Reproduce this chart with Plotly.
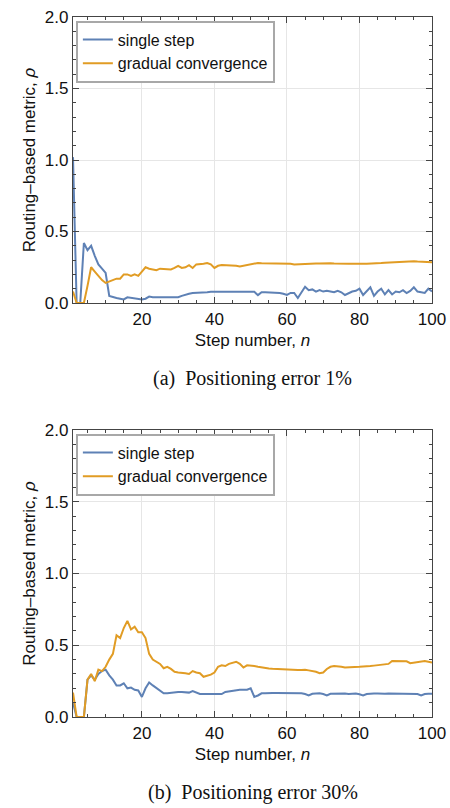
import plotly.graph_objects as go

steps = list(range(1, 101))

# (a) Positioning error 1%
single_a = [1.02, 0.0, 0.0, 0.42, 0.37, 0.40, 0.33, 0.27, 0.24, 0.21,
            0.05, 0.04, 0.035, 0.03, 0.025, 0.04, 0.035, 0.03, 0.03, 0.025,
            0.03, 0.045, 0.04, 0.04, 0.04, 0.04, 0.04, 0.04, 0.045, 0.04,
            0.05, 0.06, 0.065, 0.07, 0.07, 0.072, 0.075, 0.075, 0.078, 0.078,
            0.075, 0.08, 0.08, 0.078, 0.08, 0.075, 0.078, 0.08, 0.078, 0.08,
            0.078, 0.055, 0.075, 0.075, 0.075, 0.072, 0.075, 0.07, 0.065, 0.056,
            0.07, 0.07, 0.035, 0.07, 0.114, 0.09, 0.095, 0.08, 0.09, 0.08,
            0.085, 0.08, 0.075, 0.085, 0.075, 0.056, 0.07, 0.08, 0.085, 0.1,
            0.056, 0.08, 0.11, 0.05, 0.08, 0.1, 0.06, 0.09, 0.06, 0.08,
            0.075, 0.09, 0.07, 0.085, 0.11, 0.08, 0.075, 0.07, 0.1, 0.08]
gradual_a = [0.08, 0.0, 0.0, 0.0, 0.12, 0.25, 0.22, 0.19, 0.16, 0.14,
             0.15, 0.165, 0.17, 0.17, 0.2, 0.2, 0.19, 0.2, 0.19, 0.22,
             0.25, 0.24, 0.235, 0.23, 0.24, 0.24, 0.24, 0.235, 0.245, 0.26,
             0.245, 0.25, 0.265, 0.245, 0.27, 0.27, 0.275, 0.28, 0.27, 0.245,
             0.26, 0.265, 0.265, 0.26, 0.265, 0.26, 0.255, 0.26, 0.27, 0.275,
             0.28, 0.28, 0.278, 0.278, 0.277, 0.278, 0.276, 0.275, 0.277, 0.278,
             0.275, 0.27, 0.272, 0.274, 0.275, 0.276, 0.278, 0.277, 0.276, 0.278,
             0.279, 0.278, 0.276, 0.277, 0.278, 0.277, 0.275, 0.275, 0.273, 0.273,
             0.274, 0.275, 0.275, 0.276, 0.278, 0.28, 0.282, 0.283, 0.285, 0.288,
             0.29, 0.292, 0.293, 0.293, 0.292, 0.29, 0.288, 0.287, 0.286, 0.285]

# (b) Positioning error 30%
single_b = [0.1, 0.0, 0.0, 0.0, 0.26, 0.29, 0.26, 0.30, 0.32, 0.33,
            0.29, 0.26, 0.22, 0.22, 0.235, 0.20, 0.205, 0.19, 0.185, 0.14,
            0.20, 0.24, 0.22, 0.20, 0.18, 0.165, 0.165, 0.17, 0.17, 0.175,
            0.175, 0.17, 0.17, 0.18, 0.17, 0.16, 0.16, 0.16, 0.162, 0.165,
            0.165, 0.16, 0.175, 0.18, 0.18, 0.19, 0.19, 0.19, 0.19, 0.20,
            0.14, 0.15, 0.165, 0.165, 0.168, 0.168, 0.168, 0.168, 0.168, 0.167,
            0.167, 0.165, 0.165, 0.165, 0.16, 0.15, 0.162, 0.165, 0.165, 0.16,
            0.15, 0.162, 0.163, 0.163, 0.165, 0.163, 0.16, 0.163, 0.163, 0.158,
            0.15, 0.16, 0.163, 0.163, 0.163, 0.16, 0.162, 0.163, 0.163, 0.162,
            0.162, 0.163, 0.163, 0.162, 0.162, 0.16, 0.15, 0.16, 0.162, 0.162]
gradual_b = [0.17, 0.0, 0.0, 0.0, 0.26, 0.30, 0.25, 0.33, 0.32, 0.35,
             0.40, 0.44, 0.57, 0.55, 0.62, 0.67, 0.61, 0.63, 0.59, 0.59,
             0.55, 0.44, 0.40, 0.385, 0.37, 0.34, 0.35, 0.335, 0.315, 0.31,
             0.31, 0.305, 0.30, 0.32, 0.31, 0.305, 0.28, 0.285, 0.295, 0.31,
             0.35, 0.36, 0.355, 0.37, 0.375, 0.385, 0.37, 0.345, 0.36, 0.36,
             0.355, 0.35, 0.345, 0.34, 0.338, 0.336, 0.334, 0.332, 0.33, 0.33,
             0.33, 0.328, 0.327, 0.328, 0.33, 0.325, 0.322, 0.315, 0.305, 0.31,
             0.335, 0.35, 0.355, 0.355, 0.35, 0.345, 0.345, 0.348, 0.35, 0.35,
             0.352, 0.352, 0.355, 0.358, 0.36, 0.362, 0.365, 0.37, 0.39, 0.39,
             0.39, 0.39, 0.388, 0.375, 0.378, 0.38, 0.385, 0.39, 0.385, 0.38]

series_names = ["single step", "gradual convergence"]
captions = ["(a)  Positioning error 1%", "(b)  Positioning error 30%"]
x_tick_vals = [20, 40, 60, 80, 100]
y_tick_vals = [0.0, 0.5, 1.0, 1.5, 2.0]
y_tick_text = ["0.0", "0.5", "1.0", "1.5", "2.0"]

BLUE = "#5E81B5"
ORANGE = "#E19C24"
AXIS = "#444444"
GRID = "#E6E6E6"
SANS = "Liberation Sans, Arial, sans-serif"
SERIF = "Liberation Serif, serif"

fig = go.Figure()
panels = [(single_a, gradual_a, "x", "y", "legend"),
          (single_b, gradual_b, "x2", "y2", "legend2")]
for s, g, xa, ya, lg in panels:
    fig.add_trace(go.Scatter(x=steps, y=s, mode="lines", name=series_names[0],
                             line=dict(color=BLUE, width=2), xaxis=xa, yaxis=ya,
                             legend=lg))
    fig.add_trace(go.Scatter(x=steps, y=g, mode="lines", name=series_names[1],
                             line=dict(color=ORANGE, width=2), xaxis=xa, yaxis=ya,
                             legend=lg))

def xax(domain_anchor):
    return dict(range=[1, 100], tickvals=x_tick_vals, ticks="inside", ticklen=6,
                tickcolor=AXIS, showline=True, linecolor=AXIS, linewidth=1.2,
                mirror="ticks", showgrid=True, gridcolor=GRID, gridwidth=1,
                zeroline=False, anchor=domain_anchor, automargin=False,
                domain=[0, 1],
                tickfont=dict(family=SANS, size=17, color="#111"),
                title=dict(text="Step number, <i>n</i>",
                           font=dict(family=SANS, size=17, color="#111"), standoff=6),
                minor=dict(dtick=5, tick0=0, ticks="inside", ticklen=3,
                           tickcolor=AXIS, showgrid=False))

def yax(domain, anchor):
    return dict(range=[0, 2.0], domain=domain, tickvals=y_tick_vals,
                ticktext=y_tick_text, ticks="inside", ticklen=6, tickcolor=AXIS,
                showline=True, linecolor=AXIS, linewidth=1.2, mirror="ticks",
                showgrid=True, gridcolor=GRID, gridwidth=1, zeroline=False,
                anchor=anchor, automargin=False,
                tickfont=dict(family=SANS, size=17, color="#111"),
                title=dict(text="Routing–based metric, <i>ρ</i>",
                           font=dict(family=SANS, size=17, color="#111"), standoff=4),
                minor=dict(dtick=0.1, tick0=0, ticks="inside", ticklen=3,
                           tickcolor=AXIS, showgrid=False))

top_dom = [414 / 700, 1.0]
bot_dom = [0.0, 287 / 700]

legend_style = dict(bgcolor="white", bordercolor="#A8A8A8", borderwidth=2,
                    font=dict(family=SANS, size=16, color="#111"),
                    xanchor="left", yanchor="top", itemwidth=30,
                    tracegroupgap=0)

fig.update_layout(
    width=450, height=808,
    margin=dict(l=73, r=18, t=17, b=91, autoexpand=False),
    paper_bgcolor="white", plot_bgcolor="white",
    showlegend=True,
    xaxis=xax("y"),
    yaxis=yax(top_dom, "x"),
    xaxis2=xax("y2"),
    yaxis2=yax(bot_dom, "x2"),
    legend=dict(x=0.008, y=0.995, **legend_style),
    legend2=dict(x=0.008, y=bot_dom[1] - 0.005, **legend_style),
    annotations=[
        dict(text=captions[0], xref="paper", yref="paper", x=0.5,
             y=(717 - 378) / 700, xanchor="center", yanchor="middle",
             showarrow=False, font=dict(family=SERIF, size=20, color="#111")),
        dict(text=captions[1], xref="paper", yref="paper", x=0.5,
             y=(717 - 792) / 700, xanchor="center", yanchor="middle",
             showarrow=False, font=dict(family=SERIF, size=20, color="#111")),
    ],
)

fig.write_html("out.html")
